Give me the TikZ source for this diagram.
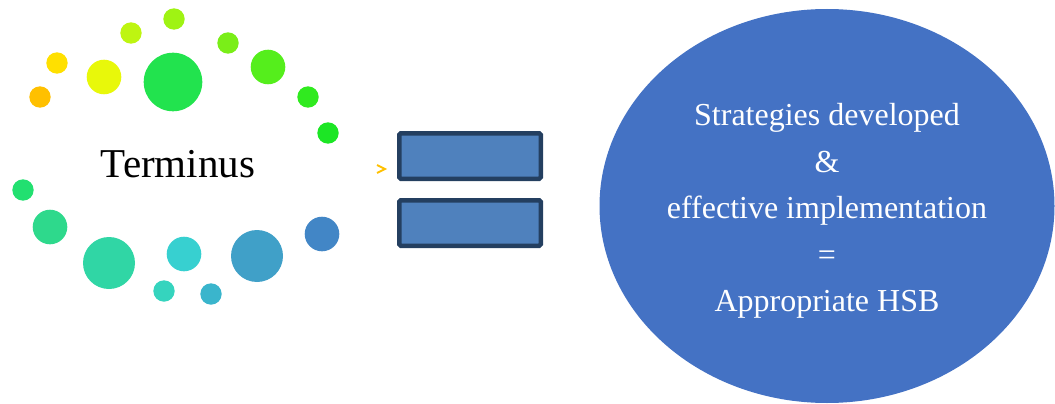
\documentclass[tikz,border=0pt]{standalone}
\usepackage{fontspec}
\setmainfont{Liberation Serif}
\usetikzlibrary{shapes.geometric}

\definecolor{cOrange}{HTML}{FFC000}
\definecolor{cYel1}{HTML}{FFE000}
\definecolor{cYel2}{HTML}{E8F80A}
\definecolor{cLime1}{HTML}{BEF511}
\definecolor{cLime2}{HTML}{9FF313}
\definecolor{cGreenBig}{HTML}{22E34E}
\definecolor{cGrn1}{HTML}{7AEE18}
\definecolor{cGrn2}{HTML}{55EE1C}
\definecolor{cGrn3}{HTML}{30EA1F}
\definecolor{cGrn4}{HTML}{1CE625}
\definecolor{cSea1}{HTML}{22E070}
\definecolor{cSea2}{HTML}{2ED98C}
\definecolor{cSea3}{HTML}{30D6A5}
\definecolor{cCyan1}{HTML}{37D0D0}
\definecolor{cCyan2}{HTML}{35D4BE}
\definecolor{cCyan3}{HTML}{3AB5CC}
\definecolor{cBlue1}{HTML}{40A0C8}
\definecolor{cBlue2}{HTML}{4286C6}
\definecolor{barFill}{HTML}{4F81BD}
\definecolor{barEdge}{HTML}{243F60}
\definecolor{goalFill}{HTML}{4472C4}

\tikzset{
  dot/.style={circle, draw=none, inner sep=0pt, fill=#1},
  sdot/.style={dot=#1, minimum size=21.4pt},
  mdot/.style={dot=#1, minimum size=34.6pt},
  ldot/.style={dot=#1, minimum size=52pt},
  bar/.style={rectangle, rounded corners=1.5pt, draw=barEdge, fill=barFill,
    line width=4.5pt, minimum width=141.5pt, minimum height=45.5pt, inner sep=0pt},
  goal/.style={ellipse, fill=goalFill, draw=none, minimum width=455pt,
    minimum height=394pt, inner sep=0pt},
  goaltext/.style={text=white, align=center, font=\fontsize{32}{46.5}\selectfont},
}

\begin{document}
\begin{tikzpicture}[x=1pt, y=-1pt]
  \useasboundingbox (0,0) rectangle (1055,404);

  % ring of dots around the title
  \node[sdot=cOrange]   (d1)  at (40,97)   {};
  \node[sdot=cYel1]     (d2)  at (57,63)   {};
  \node[mdot=cYel2]     (d3)  at (104,77)  {};
  \node[sdot=cLime1]    (d4)  at (131,33)  {};
  \node[sdot=cLime2]    (d5)  at (174,19)  {};
  \node[dot=cGreenBig, minimum size=58.6pt] (d6) at (173,82) {};
  \node[sdot=cGrn1]     (d7)  at (228,43)  {};
  \node[mdot=cGrn2]     (d8)  at (268,67)  {};
  \node[sdot=cGrn3]     (d9)  at (308,97)  {};
  \node[sdot=cGrn4]     (d10) at (328,133) {};
  \node[sdot=cSea1]     (d11) at (23,190)  {};
  \node[mdot=cSea2]     (d12) at (50,227)  {};
  \node[ldot=cSea3]     (d13) at (109,263) {};
  \node[mdot=cCyan1]    (d14) at (184,254) {};
  \node[sdot=cCyan2]    (d15) at (164,291) {};
  \node[sdot=cCyan3]    (d16) at (211,294) {};
  \node[ldot=cBlue1]    (d17) at (257,256) {};
  \node[mdot=cBlue2]    (d18) at (322,234) {};

  % title
  \node[anchor=base, inner sep=0pt, font=\fontsize{41}{49}\selectfont] (title) at (178,177) {Terminus};

  % small chevron before the bars
  \draw[cOrange, line width=2pt] (377,165) -- (385,169) -- (377,173);

  % two bars
  \node[bar] (bar1) at (470,156) {};
  \node[bar] (bar2) at (470,223) {};

  % outcome ellipse
  \node[goal] (goal) at (827,206) {};
  \node[goaltext] (goaltxt) at (827,211)
    {Strategies developed\\ \&\\ effective implementation\\ =\\ Appropriate HSB};
\end{tikzpicture}
\end{document}
